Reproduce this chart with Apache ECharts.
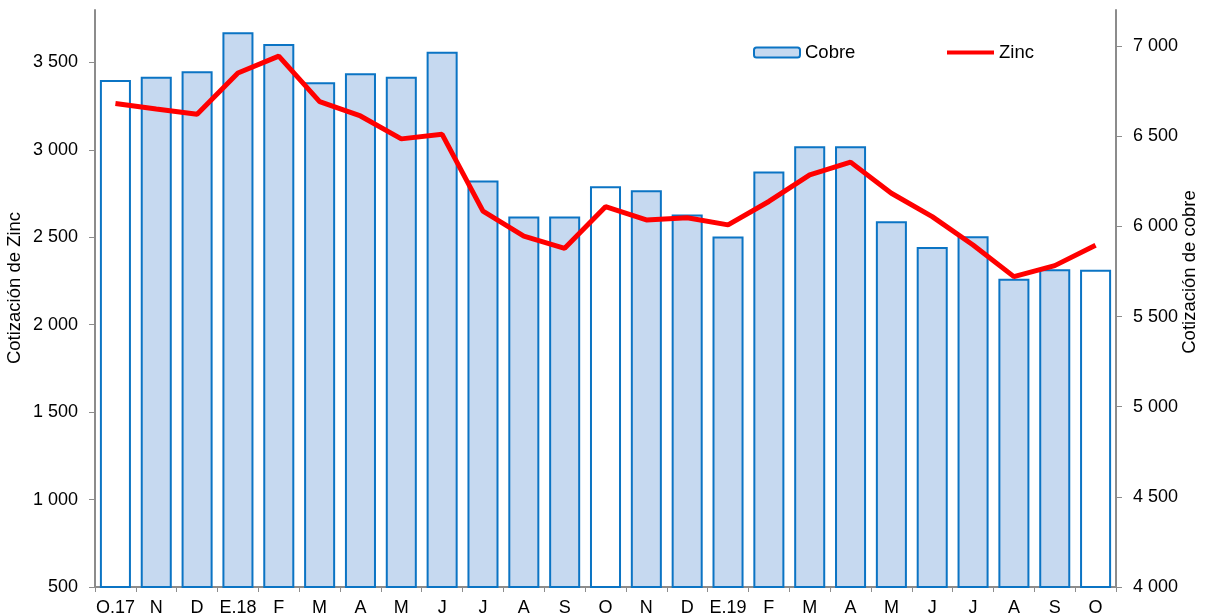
<!DOCTYPE html>
<html>
<head>
<meta charset="utf-8">
<script src="https://cdn.jsdelivr.net/npm/echarts@6/dist/echarts.min.js"></script>
<style>
html,body{margin:0;padding:0;background:#fff;}
#c{width:1205px;height:616px;}
</style>
</head>
<body>
<div id="c"></div>
<script>
const categories = ['O.17','N','D','E.18','F','M','A','M','J','J','A','S','O','N','D','E.19','F','M','A','M','J','J','A','S','O'];
const cobre = [6812,6830,6860,7076,7011,6799,6849,6830,6969,6255,6055,6055,6223,6201,6066,5944,6304,6445,6445,6028,5886,5945,5709,5762,5760];
const zinc = [3265,3234,3204,3440,3536,3276,3194,3063,3089,2650,2507,2437,2675,2599,2612,2571,2705,2857,2930,2752,2618,2456,2275,2338,2454];
const zincTicks = [500,1000,1500,2000,2500,3000,3500];
const cobreTicks = [4000,4500,5000,5500,6000,6500,7000];

const FONT = "'Liberation Sans', Arial, sans-serif";
const fmt = v => String(v).replace(/\B(?=(\d{3})+(?!\d))/g, ' ');
const axisGray = '#8c8c8c';

const cobreData = cobre.map((v, i) => {
  const isOct = categories[i].charAt(0) === 'O';
  return isOct ? {value: v, itemStyle: {color: '#ffffff'}} : v;
});

const chart = echarts.init(document.getElementById('c'));
chart.setOption({
  animation: false,
  textStyle: {fontFamily: FONT},
  grid: {left: 95, right: 89, top: 10, bottom: 29, containLabel: false, outerBoundsMode: 'none'},
  legend: [
    {data: ['Cobre'], left: 753, top: 43, padding: 0, itemWidth: 46, itemHeight: 10, itemGap: 5,
     textStyle: {fontFamily: FONT, fontSize: 18.5, color: '#000'}},
    {data: ['Zinc'], left: 945, top: 43, padding: 0, itemWidth: 47, itemHeight: 10, itemGap: 5,
     itemStyle: {opacity: 0},
     lineStyle: {width: 4, color: '#ff0000'},
     textStyle: {fontFamily: FONT, fontSize: 18.5, color: '#000'}}
  ],
  graphic: [
    {type: 'text', x: 15, y: 288, rotation: Math.PI / 2,
     style: {text: 'Cotización de Zinc', fill: '#000', font: "18.5px 'Liberation Sans', Arial, sans-serif",
             align: 'center', verticalAlign: 'middle'}},
    {type: 'text', x: 1190, y: 272, rotation: Math.PI / 2,
     style: {text: 'Cotización de cobre', fill: '#000', font: "18.5px 'Liberation Sans', Arial, sans-serif",
             align: 'center', verticalAlign: 'middle'}}
  ],
  xAxis: {
    type: 'category',
    data: categories,
    boundaryGap: true,
    axisLine: {lineStyle: {color: axisGray, width: 2}},
    axisTick: {show: true, alignWithLabel: false, length: 5, lineStyle: {color: axisGray, width: 1}},
    axisLabel: {color: '#000', fontSize: 18, fontFamily: FONT, margin: 12, interval: 0},
    splitLine: {show: false}
  },
  yAxis: [
    {
      type: 'value', min: 500, max: 3800, interval: 500, position: 'left',
      axisLine: {show: true, lineStyle: {color: axisGray, width: 2}},
      axisTick: {show: true, length: 6, lineStyle: {color: axisGray}, customValues: zincTicks},
      axisLabel: {color: '#000', fontSize: 18, fontFamily: FONT, margin: 17, formatter: fmt, customValues: zincTicks},
      splitLine: {show: false}
    },
    {
      type: 'value', min: 4000, max: 7200, interval: 500, position: 'right',
      axisLine: {show: true, lineStyle: {color: axisGray, width: 2}},
      axisTick: {show: true, length: 6, lineStyle: {color: axisGray}, customValues: cobreTicks},
      axisLabel: {color: '#000', fontSize: 18, fontFamily: FONT, margin: 17, formatter: fmt, customValues: cobreTicks},
      splitLine: {show: false}
    }
  ],
  series: [
    {
      name: 'Cobre', type: 'bar', yAxisIndex: 1, data: cobreData,
      barCategoryGap: '24%',
      itemStyle: {color: '#c6d9f0', borderColor: '#0b74c4', borderWidth: 2}
    },
    {
      name: 'Zinc', type: 'line', yAxisIndex: 0, data: zinc,
      symbol: 'none', z: 5,
      lineStyle: {color: '#ff0000', width: 5},
      itemStyle: {color: '#ff0000'}
    }
  ]
});
</script>
</body>
</html>
